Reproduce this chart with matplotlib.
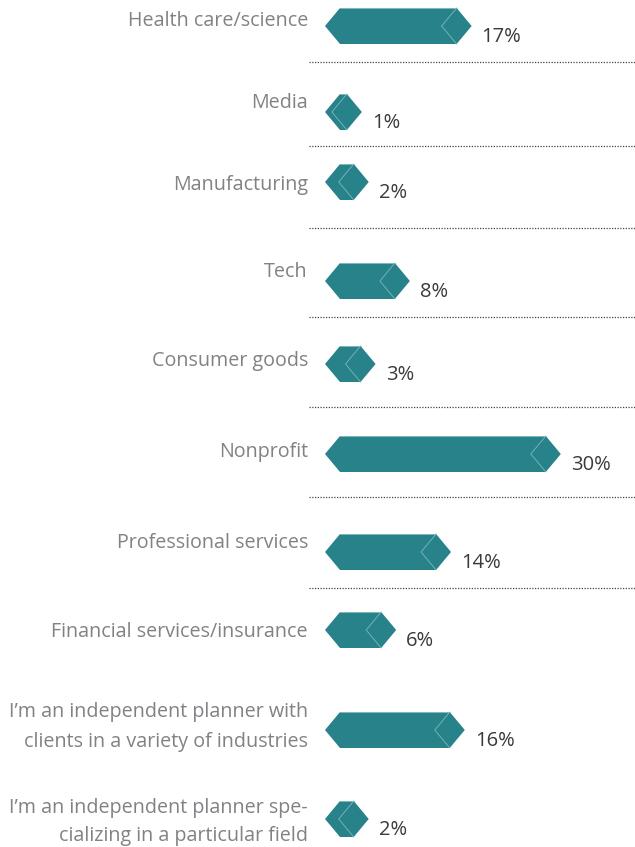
import matplotlib
matplotlib.use("Agg")
import matplotlib.pyplot as plt
from matplotlib.patches import Polygon

plt.rcParams['font.family'] = ['Open Sans', 'DejaVu Sans']

# Survey data
categories = [
    "Health care/science",
    "Media",
    "Manufacturing",
    "Tech",
    "Consumer goods",
    "Nonprofit",
    "Professional services",
    "Financial services/insurance",
    "I\u2019m an independent planner with\nclients in a variety of industries",
    "I\u2019m an independent planner spe-\ncializing in a particular field",
]
values = [17, 1, 2, 8, 3, 30, 14, 6, 16, 2]
value_labels = [f"{v}%" for v in values]

# Layout (figure pixels, measured from the top)
W, H = 635, 847
bar_y = [26, 112, 182, 281, 364, 454, 552, 630, 730, 819]
label_y = [21, 103, 185, 272, 361, 452, 543, 632, 727, 822]
separator_y = [62, 146, 228, 317, 407, 497, 588]
x0_px = 340          # where a bar's body starts
px_per_pct = 6.86    # horizontal scale
cap_px = 15          # depth of the pointed ends
bar_h = 36

TEAL = "#27828a"
LABEL_GREY = "#808285"
VALUE_DARK = "#3a3a3a"

fig = plt.figure(figsize=(W / 100, H / 100), dpi=100)
ax = fig.add_axes([0, 0, 1, 1])
ax.set_xlim(-x0_px / px_per_pct, (W - x0_px) / px_per_pct)
ax.set_ylim(H, 0)
ax.axis("off")


def px_x(px):
    return (px - x0_px) / px_per_pct


cap = cap_px / px_per_pct

for cat, v, lab, yb, yl in zip(categories, values, value_labels, bar_y, label_y):
    top, bot = yb - bar_h / 2, yb + bar_h / 2
    verts = [(-cap, yb), (0, top), (v, top), (v + cap, yb), (v, bot), (0, bot)]
    ax.add_patch(Polygon(verts, closed=True, facecolor=TEAL, edgecolor="none", zorder=2))
    # thin highlight along the top edge
    ax.plot([0, v], [top + 0.5, top + 0.5], color="#8fc3c7", lw=0.6, zorder=3)
    # inner chevron near the right tip
    ax.plot([v, v - cap, v], [top, yb, bot], color="#7fb9bd", lw=0.6, zorder=3)

    ax.text(px_x(308), yl, cat, ha="right", va="center", fontsize=14.2,
            color=LABEL_GREY, linespacing=1.6, zorder=4)
    ax.text(v + cap + 10 / px_per_pct, yb + 11, lab, ha="left", va="center",
            fontsize=14.5, color=VALUE_DARK, zorder=4)

for ys in separator_y:
    ax.plot([px_x(309), px_x(W)], [ys, ys], color="#444444", lw=0.9,
            linestyle=(0, (1, 1.2)), zorder=1)

fig.savefig("out.png", dpi=100)
